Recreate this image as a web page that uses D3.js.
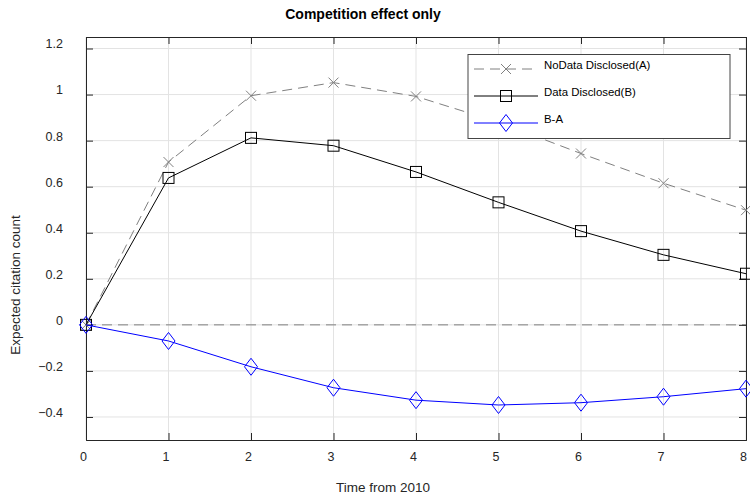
<!DOCTYPE html>
<html>
<head>
<meta charset="utf-8">
<script src="https://cdnjs.cloudflare.com/ajax/libs/d3/7.8.5/d3.min.js"></script>
<style>
    body { margin: 0; background: #fff; }
    text { font-family: "Liberation Sans", Arial, sans-serif; }
</style>
</head>
<body>
<div id="chart"></div>
<script>
// data
var years = [0, 1, 2, 3, 4, 5, 6, 7, 8];
var noDataDisclosed = [0, 0.707, 0.995, 1.052, 0.992, 0.880, 0.744, 0.615, 0.498];
var dataDisclosed = [0, 0.638, 0.812, 0.778, 0.664, 0.532, 0.407, 0.304, 0.222];
var diffBA = [0, -0.070, -0.182, -0.273, -0.327, -0.348, -0.338, -0.312, -0.277];
var xTicks = [0, 1, 2, 3, 4, 5, 6, 7, 8];
var yTicks = [-0.4, -0.2, 0, 0.2, 0.4, 0.6, 0.8, 1, 1.2];
var legendLabels = ['NoData Disclosed(A)', 'Data Disclosed(B)', 'B-A'];

drawChart();

function drawChart(){
    var width = 750, height = 500;
    var left = 86, right = 746, top = 37, bottom = 440;
    var axisColor = '#262626';
    var gridColor = '#e3e3e3';

    var svg = d3.select('#chart').append('svg')
        .attr('width', width)
        .attr('height', height);

    var x = d3.scaleLinear().domain([0, 8]).range([left, right]);
    var y = d3.scaleLinear().domain([-0.5, 1.25]).range([bottom, top]);

    // grid
    var grid = svg.append('g');
    grid.selectAll('.vgrid').data(xTicks).enter().append('line')
        .attr('x1', d => x(d)).attr('x2', d => x(d))
        .attr('y1', top).attr('y2', bottom)
        .style('stroke', gridColor).style('stroke-width', 1);
    grid.selectAll('.hgrid').data(yTicks).enter().append('line')
        .attr('x1', left).attr('x2', right)
        .attr('y1', d => y(d)).attr('y2', d => y(d))
        .style('stroke', gridColor).style('stroke-width', 1);

    // zero reference line
    svg.append('line')
        .attr('x1', left).attr('x2', right)
        .attr('y1', y(0)).attr('y2', y(0))
        .style('stroke', '#808080')
        .style('stroke-width', 1)
        .style('stroke-dasharray', '10,6');

    // axes: ticks inside on all four sides
    var tickLen = 7;
    var xAxisG = svg.append('g').attr('transform', 'translate(0,' + bottom + ')')
        .call(d3.axisBottom(x).tickValues(xTicks).tickSize(-tickLen).tickPadding(12).tickFormat(d3.format('d')))
        .call(styleAxis);
    svg.append('g').attr('transform', 'translate(0,' + top + ')')
        .call(d3.axisTop(x).tickValues(xTicks).tickSize(-tickLen).tickFormat(''))
        .call(styleAxis);
    var yAxisG = svg.append('g').attr('transform', 'translate(' + left + ',0)')
        .call(d3.axisLeft(y).tickValues(yTicks).tickSize(-tickLen).tickPadding(23).tickFormat(d => d3.format('')(+d.toFixed(1))))
        .call(styleAxis);
    svg.append('g').attr('transform', 'translate(' + right + ',0)')
        .call(d3.axisRight(y).tickValues(yTicks).tickSize(-tickLen).tickFormat(''))
        .call(styleAxis);

    function styleAxis(g){
        g.select('.domain').style('stroke', axisColor).style('stroke-width', 1);
        g.selectAll('.tick line').style('stroke', axisColor);
        g.selectAll('.tick text')
            .style('font-size', '12.5px')
            .style('fill', axisColor)
            .style('font-family', '"Liberation Sans", Arial, sans-serif');
    }
    // labels sit a little up/left of their ticks in the original export
    yAxisG.selectAll('.tick text').attr('dy', '-0.05em');
    xAxisG.selectAll('.tick text').attr('dx', '-3');

    var line = d3.line()
        .x((d, i) => x(years[i]))
        .y(d => y(d));

    // A: gray dashed with x markers
    svg.append('path').datum(noDataDisclosed)
        .attr('d', line)
        .style('fill', 'none').style('stroke', '#808080')
        .style('stroke-width', 1).style('stroke-dasharray', '10,6');
    svg.selectAll('.mA').data(noDataDisclosed).enter().append('path')
        .attr('transform', (d, i) => 'translate(' + x(years[i]) + ',' + y(d) + ')')
        .attr('d', crossPath(5))
        .style('fill', 'none').style('stroke', '#808080').style('stroke-width', 1);

    // B: black solid with squares
    svg.append('path').datum(dataDisclosed)
        .attr('d', line)
        .style('fill', 'none').style('stroke', '#000').style('stroke-width', 1);
    svg.selectAll('.mB').data(dataDisclosed).enter().append('rect')
        .attr('x', (d, i) => x(years[i]) - 5.5)
        .attr('y', d => y(d) - 5.5)
        .attr('width', 11).attr('height', 11)
        .style('fill', 'none').style('stroke', '#000').style('stroke-width', 1);

    // B-A: blue with diamonds
    svg.append('path').datum(diffBA)
        .attr('d', line)
        .style('fill', 'none').style('stroke', '#0000ff').style('stroke-width', 1);
    svg.selectAll('.mC').data(diffBA).enter().append('path')
        .attr('transform', (d, i) => 'translate(' + x(years[i]) + ',' + y(d) + ')')
        .attr('d', diamondPath(6.5, 8.5))
        .style('fill', 'none').style('stroke', '#0000ff').style('stroke-width', 1);

    // legend
    var legend = svg.append('g');
    legend.append('rect')
        .attr('x', 468).attr('y', 54.5)
        .attr('width', 262).attr('height', 84)
        .style('fill', '#fff').style('stroke', '#444').style('stroke-width', 1);
    var rowY = [69, 96, 123];
    var styles = [
        {stroke: '#808080', dash: '10,6', marker: 'x'},
        {stroke: '#000', dash: null, marker: 's'},
        {stroke: '#0000ff', dash: null, marker: 'd'}
    ];
    legendLabels.forEach(function(lab, i){
        var s = styles[i];
        legend.append('line')
            .attr('x1', 474).attr('x2', 538)
            .attr('y1', rowY[i]).attr('y2', rowY[i])
            .style('stroke', s.stroke).style('stroke-width', 1)
            .style('stroke-dasharray', s.dash);
        if (s.marker === 'x'){
            legend.append('path').attr('transform', 'translate(506,' + rowY[i] + ')')
                .attr('d', crossPath(5)).style('fill', 'none').style('stroke', s.stroke);
        } else if (s.marker === 's'){
            legend.append('rect').attr('x', 500.5).attr('y', rowY[i] - 5.5)
                .attr('width', 11).attr('height', 11)
                .style('fill', 'none').style('stroke', s.stroke);
        } else {
            legend.append('path').attr('transform', 'translate(506,' + rowY[i] + ')')
                .attr('d', diamondPath(6.5, 8.5)).style('fill', 'none').style('stroke', s.stroke);
        }
        legend.append('text')
            .attr('x', 544).attr('y', rowY[i] - 4)
            .attr('dy', '0.35em')
            .text(lab)
            .style('font-size', '11.4px')
            .style('fill', '#000');
    });

    // titles
    svg.append('text')
        .attr('x', 363).attr('y', 14).attr('dy', '0.35em')
        .attr('text-anchor', 'middle')
        .text('Competition effect only')
        .style('font-size', '14px').style('font-weight', 'bold').style('fill', '#000');
    svg.append('text')
        .attr('x', 383).attr('y', 487).attr('dy', '0.35em')
        .attr('text-anchor', 'middle')
        .text('Time from 2010')
        .style('font-size', '13.5px').style('fill', axisColor);
    svg.append('text')
        .attr('transform', 'translate(15,285) rotate(-90)')
        .attr('dy', '0.35em')
        .attr('text-anchor', 'middle')
        .text('Expected citation count')
        .style('font-size', '13.5px').style('fill', axisColor);
}

function crossPath(r){
    return 'M' + (-r) + ',' + (-r) + 'L' + r + ',' + r + 'M' + (-r) + ',' + r + 'L' + r + ',' + (-r);
}

function diamondPath(w, h){
    return 'M0,' + (-h) + 'L' + w + ',0L0,' + h + 'L' + (-w) + ',0Z';
}
</script>
</body>
</html>
